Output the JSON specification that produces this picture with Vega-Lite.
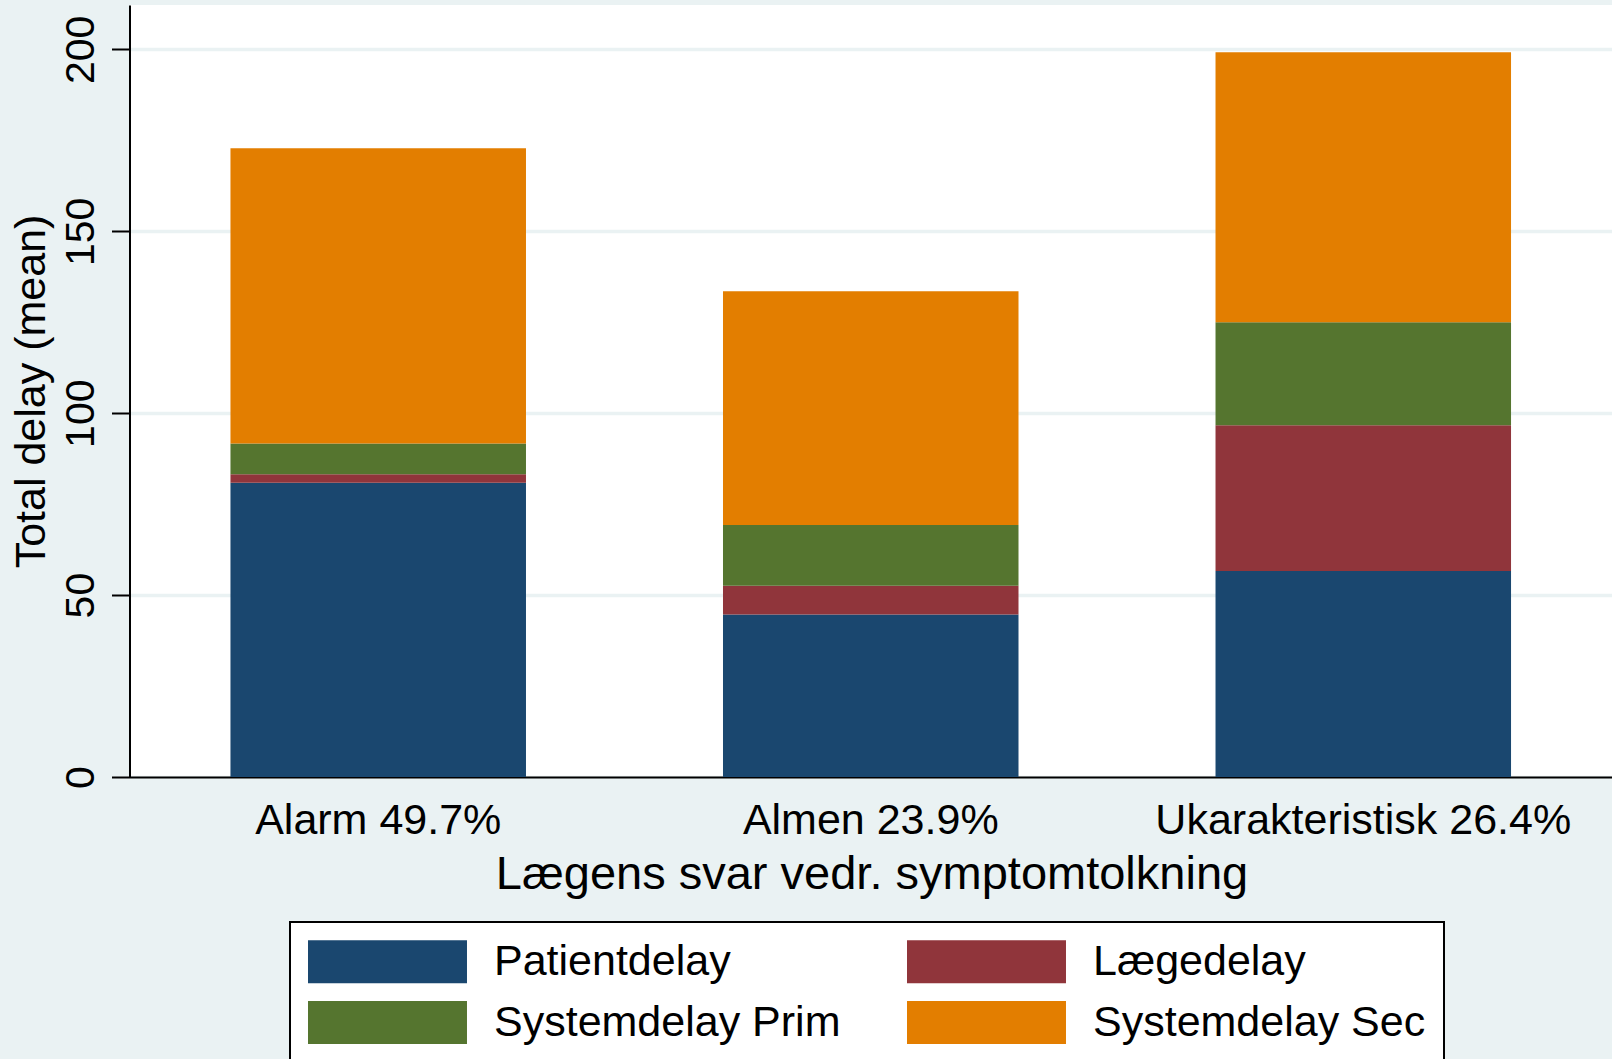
{
  "$schema": "https://vega.github.io/schema/vega-lite/v6.json",
  "width": 1482.5,
  "height": 772,
  "autosize": "none",
  "padding": {"left": 129.5, "top": 5, "right": 0, "bottom": 282},
  "background": "#eaf2f3",
  "config": {
    "font": "Liberation Sans",
    "view": {"fill": "white", "stroke": null},
    "legend": {"strokeWidth": 2}
  },
  "data": {
    "values": [
      {"group": "Alarm 49.7%", "type": "Patientdelay", "ord": 1, "value": 80.9},
      {"group": "Alarm 49.7%", "type": "Lægedelay", "ord": 2, "value": 2.3},
      {"group": "Alarm 49.7%", "type": "Systemdelay Prim", "ord": 3, "value": 8.5},
      {"group": "Alarm 49.7%", "type": "Systemdelay Sec", "ord": 4, "value": 81.1},
      {"group": "Almen 23.9%", "type": "Patientdelay", "ord": 1, "value": 44.7},
      {"group": "Almen 23.9%", "type": "Lægedelay", "ord": 2, "value": 7.9},
      {"group": "Almen 23.9%", "type": "Systemdelay Prim", "ord": 3, "value": 16.7},
      {"group": "Almen 23.9%", "type": "Systemdelay Sec", "ord": 4, "value": 64.2},
      {"group": "Ukarakteristisk 26.4%", "type": "Patientdelay", "ord": 1, "value": 56.6},
      {"group": "Ukarakteristisk 26.4%", "type": "Lægedelay", "ord": 2, "value": 40.1},
      {"group": "Ukarakteristisk 26.4%", "type": "Systemdelay Prim", "ord": 3, "value": 28.3},
      {"group": "Ukarakteristisk 26.4%", "type": "Systemdelay Sec", "ord": 4, "value": 74.2}
    ]
  },
  "mark": {"type": "bar", "strokeWidth": 0},
  "encoding": {
    "x": {
      "field": "group",
      "type": "nominal",
      "sort": null,
      "scale": {"paddingInner": 0.4, "paddingOuter": 0.205},
      "axis": {
        "title": "Lægens svar vedr. symptomtolkning",
        "titleFontSize": 47,
        "titleFontWeight": "normal",
        "titleColor": "black",
        "titleBaseline": "alphabetic",
        "titleX": 742,
        "titleY": 111,
        "labelAngle": 0,
        "labelFontSize": 43,
        "labelColor": "black",
        "labelBaseline": "alphabetic",
        "labelPadding": 56,
        "ticks": false,
        "tickSize": 0,
        "domainColor": "black",
        "domainWidth": 2,
        "labelLimit": 0
      }
    },
    "y": {
      "field": "value",
      "type": "quantitative",
      "stack": "zero",
      "scale": {"domain": [0, 212.2], "nice": false, "zero": true},
      "axis": {
        "title": "Total delay (mean)",
        "titleFontSize": 43,
        "titleFontWeight": "normal",
        "titleColor": "black",
        "titleAngle": 270,
        "titleAlign": "center",
        "titleBaseline": "alphabetic",
        "titleX": -85.5,
        "titleY": 386,
        "values": [0, 50, 100, 150, 200],
        "labelAngle": 270,
        "labelAlign": "center",
        "labelBaseline": "alphabetic",
        "labelFontSize": 41,
        "labelColor": "black",
        "labelPadding": 18.5,
        "tickSize": 18,
        "tickColor": "black",
        "tickWidth": 2,
        "domainColor": "black",
        "domainWidth": 2,
        "grid": true,
        "gridColor": "#eaf2f3",
        "gridWidth": 3.5
      }
    },
    "color": {
      "field": "type",
      "type": "nominal",
      "sort": ["Patientdelay", "Lægedelay", "Systemdelay Prim", "Systemdelay Sec"],
      "scale": {
        "domain": ["Patientdelay", "Lægedelay", "Systemdelay Prim", "Systemdelay Sec"],
        "range": ["#1a476f", "#90353b", "#55752f", "#e37e00"]
      },
      "legend": {
        "title": null,
        "orient": "none",
        "legendX": 160.5,
        "legendY": 917,
        "direction": "horizontal",
        "columns": 2,
        "columnPadding": 66,
        "rowPadding": 17,
        "padding": 18,
        "fillColor": "white",
        "strokeColor": "black",
        "cornerRadius": 0,
        "symbolType": "M-1,-1H6.395V1H-1Z",
        "symbolSize": 1849,
        "symbolStrokeWidth": 0,
        "symbolOpacity": 1,
        "labelFontSize": 43,
        "labelColor": "black",
        "labelOffset": 143,
        "labelLimit": 0
      }
    },
    "order": {"field": "ord", "type": "quantitative"}
  }
}
